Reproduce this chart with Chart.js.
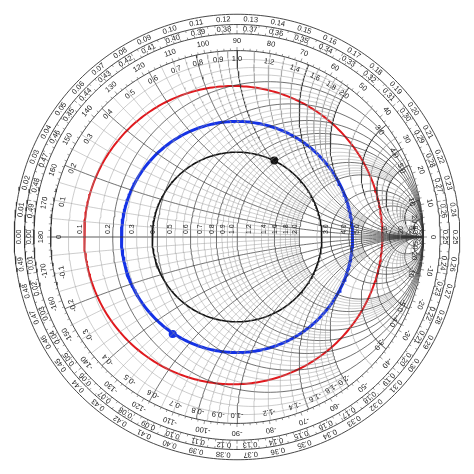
<!DOCTYPE html>
<html>
<head>
<meta charset="utf-8">
<script src="https://cdn.jsdelivr.net/npm/chart.js@4/dist/chart.umd.min.js"></script>
<style>
  html, body { margin: 0; padding: 0; background: #fff; }
  #wrap { width: 474px; height: 474px; }
</style>
</head>
<body>
<div id="wrap"><canvas id="smith"></canvas></div>
<script>
// grid values (normalized r and x)
const majorValues = [0.2, 0.4, 0.6, 0.8, 1, 1.5, 2, 3, 4, 5, 10, 20, 50];
const minorValues = [0.05, 0.1, 0.15, 0.25, 0.3, 0.35, 0.45, 0.5, 0.55, 0.65, 0.7, 0.75, 0.85, 0.9, 0.95,
                     1.1, 1.2, 1.3, 1.4, 1.6, 1.7, 1.8, 1.9, 2.5, 3.5, 4.5, 6, 7, 8, 9, 15];
const rLabels = [0.1, 0.2, 0.3, 0.4, 0.5, 0.6, 0.7, 0.8, 0.9, 1.0, 1.2, 1.4, 1.6, 1.8, 2.0, 3.0, 4.0, 5.0, 10, 20, 50];
const xLabels = [0.1, 0.2, 0.3, 0.4, 0.5, 0.6, 0.7, 0.8, 0.9, 1.0, 1.2, 1.4, 1.6, 1.8, 2.0, 3.0, 4.0, 5.0, 10, 20, 50];
const angleLabels = [-170, -160, -150, -140, -130, -120, -110, -100, -90, -80, -70, -60, -50, -40, -30, -20, -10,
                     0, 10, 20, 30, 40, 50, 60, 70, 80, 90, 100, 110, 120, 130, 140, 150, 160, 170, 180];
const wavelengthLabels = [0.00, 0.01, 0.02, 0.03, 0.04, 0.05, 0.06, 0.07, 0.08, 0.09, 0.10, 0.11, 0.12, 0.13, 0.14,
                          0.15, 0.16, 0.17, 0.18, 0.19, 0.20, 0.21, 0.22, 0.23, 0.24, 0.25, 0.26, 0.27, 0.28, 0.29,
                          0.30, 0.31, 0.32, 0.33, 0.34, 0.35, 0.36, 0.37, 0.38, 0.39, 0.40, 0.41, 0.42, 0.43, 0.44,
                          0.45, 0.46, 0.47, 0.48, 0.49];

// overlay circles in the reflection plane
const circleNames = ['red', 'blue', 'black'];
const circleCenters = [[-0.02, 0.01], [0, 0], [0, 0]];
const circleRadii = [0.80, 0.62, 0.455];
const circleColors = ['#e0191e', '#1432e6', '#111'];
const circleWidths = [2, 3, 1.6];
const markerPoints = [{x: 0.20, y: 0.41}, {x: -0.345, y: -0.52}];
const markerColors = ['#111', '#1432e6'];
const ringRadii = [1.0, 1.09, 1.14, 1.195];

// z -> gamma
function gamma(r, x) {
  const d = (r + 1) * (r + 1) + x * x;
  return { x: (r * r + x * x - 1) / d, y: (2 * x) / d };
}

function resistanceCurve(r, lim) {
  const pts = [], a = Math.atan(lim), n = 160;
  for (let i = 0; i <= n; i++) {
    const t = -a + 2 * a * i / n;
    pts.push(gamma(r, Math.abs(t) >= Math.PI / 2 - 1e-9 ? Math.sign(t) * 1e6 : Math.tan(t)));
  }
  return pts;
}

function reactanceCurve(x, lim) {
  const pts = [], a = Math.atan(lim), n = 120;
  for (let i = 0; i <= n; i++) {
    const s = a * i / n;
    pts.push(gamma(s >= Math.PI / 2 - 1e-9 ? 1e6 : Math.tan(s), x));
  }
  return pts;
}

function minorLimit(v) { return v < 1 ? 2 : v < 2 ? 5 : 20; }

const datasets = [];
function addLine(data, color, width) {
  datasets.push({ data, borderColor: color, borderWidth: width, showLine: true, pointRadius: 0, fill: false, tension: 0 });
}

minorValues.forEach(v => {
  const lim = minorLimit(v);
  addLine(resistanceCurve(v, lim), '#9a9a9a', 0.5);
  addLine(reactanceCurve(v, lim), '#9a9a9a', 0.5);
  addLine(reactanceCurve(-v, lim), '#9a9a9a', 0.5);
});
majorValues.forEach(v => {
  addLine(resistanceCurve(v, 1e9), '#333', 0.7);
  addLine(reactanceCurve(v, 1e9), '#333', 0.7);
  addLine(reactanceCurve(-v, 1e9), '#333', 0.7);
});
addLine([{x: -1, y: 0}, {x: 1, y: 0}], '#333', 0.8);
ringRadii.forEach(rr => {
  const pts = [];
  for (let i = 0; i <= 360; i++) pts.push({ x: rr * Math.cos(i * Math.PI / 180), y: rr * Math.sin(i * Math.PI / 180) });
  addLine(pts, '#333', 0.9);
});
circleNames.forEach((name, k) => {
  const pts = [];
  for (let i = 0; i <= 360; i++) {
    const a = i * Math.PI / 180;
    pts.push({ x: circleCenters[k][0] + circleRadii[k] * Math.cos(a), y: circleCenters[k][1] + circleRadii[k] * Math.sin(a) });
  }
  addLine(pts, circleColors[k], circleWidths[k]);
});
markerPoints.forEach((p, k) => {
  datasets.push({ data: [p], pointRadius: 4, pointBackgroundColor: markerColors[k], pointBorderWidth: 0, showLine: false });
});

function fmt(v) { return v >= 10 ? String(v) : v.toFixed(1); }

const labelPlugin = {
  id: 'smithLabels',
  beforeDatasetsDraw(chart) {
    const { ctx, scales } = chart;
    const sx = scales.x, sy = scales.y;
    const px = (x, y) => [sx.getPixelForValue(x), sy.getPixelForValue(y)];
    // tick marks on the scale rings
    ctx.save();
    ctx.strokeStyle = '#555';
    ctx.lineWidth = 0.6;
    for (let i = 0; i < 360; i += 2) {
      const a = i * Math.PI / 180;
      [[1.0, 1.012], [1.09, 1.102], [1.14, 1.128]].forEach(([r1, r2]) => {
        const len = i % 10 === 0 ? 1.6 : 1;
        const [X1, Y1] = px(r1 * Math.cos(a), r1 * Math.sin(a));
        const [X2, Y2] = px((r1 + (r2 - r1) * len) * Math.cos(a), (r1 + (r2 - r1) * len) * Math.sin(a));
        ctx.beginPath(); ctx.moveTo(X1, Y1); ctx.lineTo(X2, Y2); ctx.stroke();
      });
    }
    ctx.restore();
  },
  afterDatasetsDraw(chart) {
    const { ctx, scales } = chart;
    const sx = scales.x, sy = scales.y;
    const px = (x, y) => [sx.getPixelForValue(x), sy.getPixelForValue(y)];
    const radial = (rad, deg, text, size) => {
      const a = deg * Math.PI / 180;
      const [X, Y] = px(rad * Math.cos(a), rad * Math.sin(a));
      ctx.save();
      ctx.translate(X, Y);
      ctx.rotate(Math.PI / 2 - a);
      ctx.font = size + 'px "Liberation Sans", Arial, sans-serif';
      ctx.textAlign = 'center';
      ctx.textBaseline = 'middle';
      ctx.fillText(text, 0, 0);
      ctx.restore();
    };
    ctx.save();
    ctx.fillStyle = '#222';
    rLabels.forEach(v => {
      const g = gamma(v, 0);
      const [X, Y] = px(g.x, g.y);
      ctx.save();
      ctx.translate(X - 1, Y);
      ctx.rotate(-Math.PI / 2);
      ctx.font = '7px "Liberation Sans", Arial, sans-serif';
      ctx.textAlign = 'left';
      ctx.textBaseline = 'bottom';
      ctx.fillText(fmt(v), 3, 0);
      ctx.restore();
    });
    xLabels.forEach(v => {
      [1, -1].forEach(s => {
        const g = gamma(0, s * v);
        const deg = Math.atan2(g.y, g.x) * 180 / Math.PI;
        radial(0.955, deg, (s < 0 ? '-' : '') + fmt(v), 7.5);
      });
    });
    radial(0.955, 180, '0', 7.5);
    angleLabels.forEach(d => radial(1.05, d, String(d), 7.5));
    wavelengthLabels.forEach(w => {
      radial(1.168, 180 - 720 * w, w.toFixed(2), 7.5);
      radial(1.115, 180 + 720 * w, w.toFixed(2), 7.5);
    });
    ctx.restore();
  }
};

new Chart(document.getElementById('smith'), {
  type: 'scatter',
  data: { datasets },
  options: {
    responsive: true,
    maintainAspectRatio: true,
    aspectRatio: 1,
    animation: false,
    layout: { padding: 0 },
    scales: {
      x: { type: 'linear', min: -1.25, max: 1.25, display: false },
      y: { type: 'linear', min: -1.25, max: 1.25, display: false }
    },
    plugins: { legend: { display: false }, tooltip: { enabled: false } }
  },
  plugins: [labelPlugin]
});
</script>
</body>
</html>
